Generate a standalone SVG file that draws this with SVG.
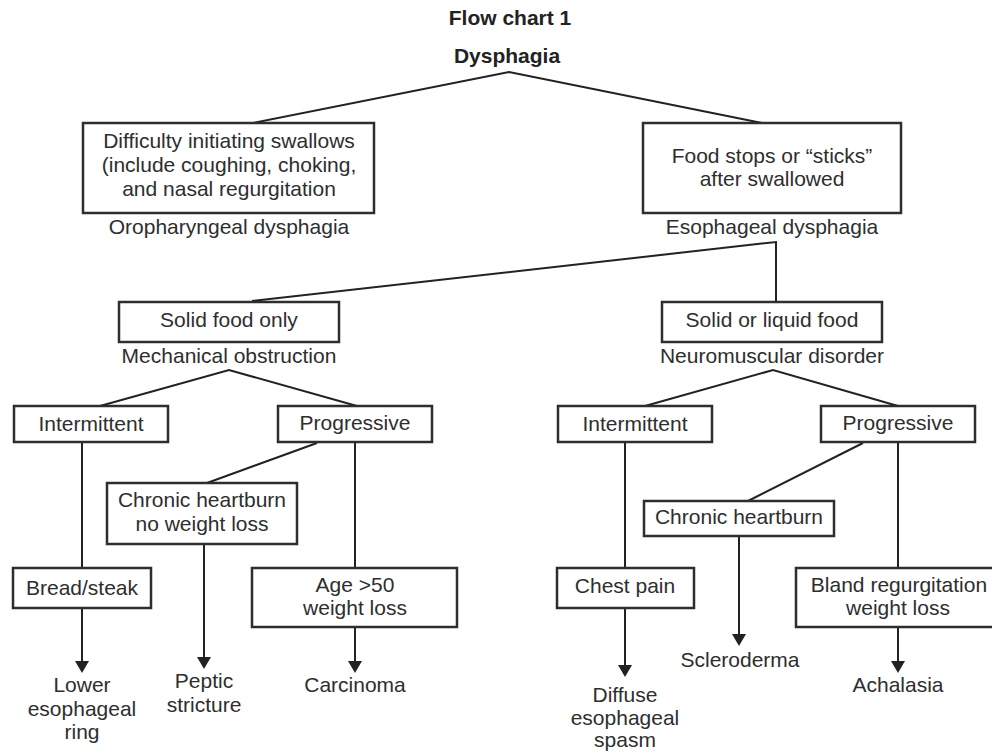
<svg xmlns="http://www.w3.org/2000/svg" width="992" height="752" viewBox="0 0 992 752">
<defs>
<style>
text{font-family:"Liberation Sans",Arial,sans-serif;font-size:21px;fill:#2e2e2e;text-anchor:middle}
.b{font-weight:bold;fill:#222}
rect{fill:#fff;stroke:#2e2e2e;stroke-width:2.5}
.c line,.c polyline{stroke:#222;stroke-width:2;fill:none}
</style>
<marker id="ah" viewBox="0 0 12 14" refX="8" refY="7" markerWidth="12" markerHeight="14" markerUnits="userSpaceOnUse" orient="auto"><path d="M0,0 L12,7 L0,14 z" fill="#222"/></marker>
</defs>
<rect x="0" y="0" width="992" height="752" style="fill:#fff;stroke:none"/>
<g id="connectors" class="c">
<polyline points="253,123 509,72 762,123"/>
<polyline points="252,301 776,242 776,302"/>
<polyline points="100,406 229,370 357,406"/>
<polyline points="645,406 773,370 898,406"/>
<line x1="82" y1="442" x2="82" y2="568"/>
<line x1="82" y1="608" x2="82" y2="669" marker-end="url(#ah)"/>
<line x1="317" y1="443" x2="207" y2="483"/>
<line x1="204" y1="544" x2="204" y2="665" marker-end="url(#ah)"/>
<line x1="355" y1="442" x2="355" y2="568"/>
<line x1="355" y1="627" x2="355" y2="669" marker-end="url(#ah)"/>
<line x1="625" y1="442" x2="625" y2="568"/>
<line x1="625" y1="608" x2="625" y2="673" marker-end="url(#ah)"/>
<line x1="863" y1="443" x2="748" y2="501"/>
<line x1="739" y1="536" x2="739" y2="642" marker-end="url(#ah)"/>
<line x1="898" y1="442" x2="898" y2="568"/>
<line x1="898" y1="627" x2="898" y2="669" marker-end="url(#ah)"/>
</g>
<g id="title"><text class="b" x="510" y="25">Flow chart 1</text></g>
<g id="dysphagia"><text class="b" x="507" y="63">Dysphagia</text></g>
<g id="oro">
<rect x="83" y="123" width="291" height="90"/>
<text x="229" y="148">Difficulty initiating swallows</text>
<text x="229" y="172">(include coughing, choking,</text>
<text x="229" y="196">and nasal regurgitation</text>
<text x="229" y="234">Oropharyngeal dysphagia</text>
</g>
<g id="eso">
<rect x="643" y="123" width="258" height="90"/>
<text x="772" y="163">Food stops or “sticks”</text>
<text x="772" y="186">after swallowed</text>
<text x="772" y="234">Esophageal dysphagia</text>
</g>
<g id="solid">
<rect x="119" y="302" width="220" height="40"/>
<text x="229" y="327">Solid food only</text>
<text x="229" y="363">Mechanical obstruction</text>
</g>
<g id="liquid">
<rect x="662" y="302" width="220" height="40"/>
<text x="772" y="327">Solid or liquid food</text>
<text x="772" y="363">Neuromuscular disorder</text>
</g>
<g id="int1"><rect x="14" y="406" width="154" height="36"/><text x="91" y="431">Intermittent</text></g>
<g id="prog1"><rect x="278" y="406" width="154" height="36"/><text x="355" y="430">Progressive</text></g>
<g id="int2"><rect x="558" y="406" width="154" height="36"/><text x="635" y="431">Intermittent</text></g>
<g id="prog2"><rect x="821" y="406" width="154" height="36"/><text x="898" y="430">Progressive</text></g>
<g id="bread"><rect x="13" y="568" width="138" height="40"/><text x="82" y="595">Bread/steak</text></g>
<g id="chb1"><rect x="107" y="483" width="190" height="61"/><text x="202" y="507">Chronic heartburn</text><text x="202" y="531">no weight loss</text></g>
<g id="age"><rect x="252" y="568" width="205" height="59"/><text x="355" y="592">Age &gt;50</text><text x="355" y="615">weight loss</text></g>
<g id="chest"><rect x="557" y="568" width="137" height="40"/><text x="625" y="593">Chest pain</text></g>
<g id="chb2"><rect x="644" y="501" width="190" height="35"/><text x="739" y="524">Chronic heartburn</text></g>
<g id="bland"><rect x="796" y="568" width="204" height="59"/><text x="899" y="592">Bland regurgitation</text><text x="898" y="615">weight loss</text></g>
<g id="ring"><text x="82" y="692">Lower</text><text x="82" y="716">esophageal</text><text x="82" y="739">ring</text></g>
<g id="peptic"><text x="204" y="688">Peptic</text><text x="204" y="712">stricture</text></g>
<g id="carcinoma"><text x="355" y="692">Carcinoma</text></g>
<g id="spasm"><text x="625" y="702">Diffuse</text><text x="625" y="725">esophageal</text><text x="625" y="747">spasm</text></g>
<g id="scleroderma"><text x="740" y="667">Scleroderma</text></g>
<g id="achalasia"><text x="898" y="692">Achalasia</text></g>
</svg>
